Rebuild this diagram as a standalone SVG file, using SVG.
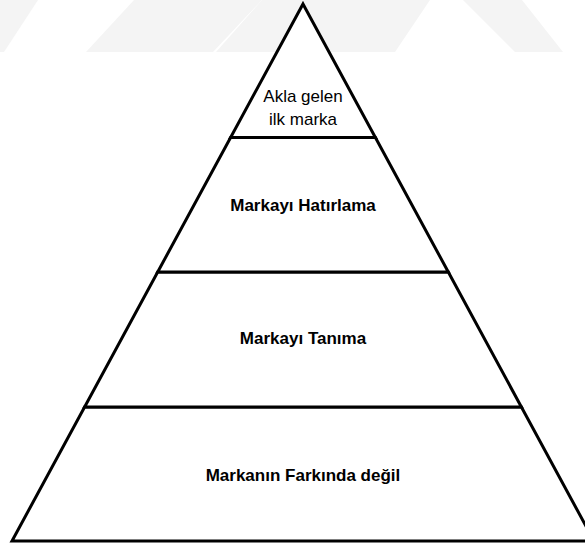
<svg xmlns="http://www.w3.org/2000/svg" width="585" height="544" viewBox="0 0 585 544">
<style>
.tier{fill:#ffffff;stroke:#000000;stroke-width:3;stroke-linejoin:miter}
.wm{fill:#f4f4f4;stroke:none}
.lbl{font-family:"Liberation Sans",Arial,sans-serif;font-size:17px;fill:#000000;text-anchor:middle}
.b{font-weight:bold}
</style>
<rect width="585" height="544" fill="#ffffff"/>
<g id="watermark">
<polygon class="wm" points="0,0 38,0 4,52 0,52"/>
<polygon class="wm" points="134,0 262,0 213,52 86,52"/>
<polygon class="wm" points="262,0 430,0 395,52 216,52"/>
<polygon class="wm" points="463,0 522,0 563,52 515,52"/>
</g>
<g id="tier-base">
<polygon class="tier" points="84.6,407 521.4,407 594,541 12,541"/>
<text class="lbl b" x="303" y="481">Markanın Farkında değil</text>
</g>
<g id="tier-recognition">
<polygon class="tier" points="157.7,272 448.3,272 521.4,407 84.6,407"/>
<text class="lbl b" x="303" y="344">Markayı Tanıma</text>
</g>
<g id="tier-recall">
<polygon class="tier" points="230.6,137.5 375.4,137.5 448.3,272 157.7,272"/>
<text class="lbl b" x="303" y="211">Markayı Hatırlama</text>
</g>
<g id="tier-top">
<polygon class="tier" points="303,4 375.4,137.5 230.6,137.5"/>
<text class="lbl" x="303" y="102">Akla gelen</text>
<text class="lbl" x="303" y="125">ilk marka</text>
</g>
<g id="connectors"></g>
</svg>
